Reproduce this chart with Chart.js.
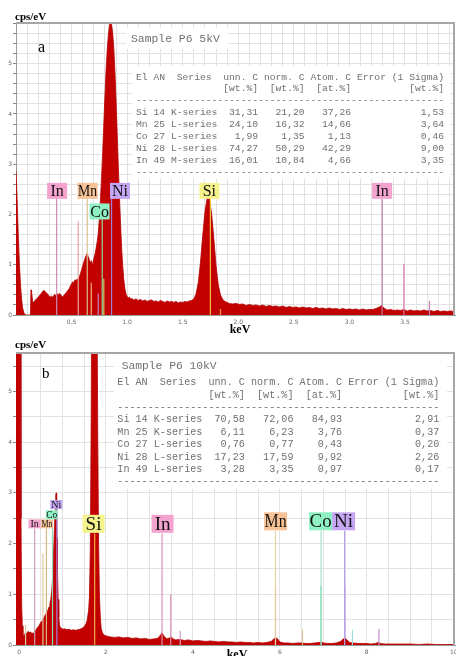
<!DOCTYPE html>
<html>
<head>
<meta charset="utf-8">
<script src="https://cdn.jsdelivr.net/npm/chart.js@4"></script>
<style>
  html, body { margin: 0; padding: 0; background: #fff; width: 456px; height: 656px; overflow: hidden; }
  canvas { position: absolute; left: 0; }
</style>
</head>
<body>
<canvas id="ca" width="456" height="334" style="top:0"></canvas>
<canvas id="cb" width="456" height="322" style="top:334px"></canvas>
<script>
// ---- panel a: 5 kV spectrum (keV, cps/eV) ----
const keVA = [
  0.00, 0.01, 0.02, 0.03, 0.04, 0.05, 0.06, 0.07, 0.08, 0.09,
  0.13, 0.135, 0.14, 0.15, 0.16, 0.17, 0.18, 0.19, 0.20, 0.21,
  0.22, 0.23, 0.24, 0.25, 0.26, 0.27, 0.28, 0.29, 0.30, 0.31,
  0.32, 0.33, 0.34, 0.35, 0.36, 0.37, 0.38, 0.39, 0.40, 0.41,
  0.42, 0.43, 0.44, 0.45, 0.46, 0.47, 0.48, 0.49, 0.50, 0.51,
  0.52, 0.53, 0.54, 0.55, 0.56, 0.57, 0.58, 0.59, 0.60, 0.61,
  0.62, 0.63, 0.64, 0.65, 0.66, 0.67, 0.68, 0.69, 0.70, 0.71,
  0.72, 0.73, 0.74, 0.75, 0.76, 0.77, 0.78, 0.79, 0.80, 0.81,
  0.82, 0.83, 0.84, 0.85, 0.86, 0.87, 0.88, 0.89, 0.90, 0.91,
  0.92, 0.93, 0.94, 0.95, 0.96, 0.97, 0.98, 0.99, 1.00, 1.01,
  1.02, 1.03, 1.04, 1.06, 1.08, 1.10, 1.12, 1.14, 1.16, 1.18,
  1.20, 1.22, 1.24, 1.26, 1.28, 1.30, 1.32, 1.34, 1.36, 1.38,
  1.40, 1.42, 1.44, 1.46, 1.48, 1.50, 1.52, 1.54, 1.56, 1.58,
  1.60, 1.62, 1.64, 1.66, 1.68, 1.70, 1.72, 1.73, 1.74, 1.76,
  1.78, 1.80, 1.82, 1.84, 1.86, 1.88, 1.90, 1.92, 1.95, 1.98,
  2.01, 2.04, 2.07, 2.10, 2.13, 2.16, 2.19, 2.22, 2.25, 2.28,
  2.31, 2.34, 2.37, 2.40, 2.43, 2.46, 2.49, 2.52, 2.55, 2.58,
  2.61, 2.64, 2.67, 2.70, 2.73, 2.76, 2.79, 2.82, 2.85, 2.88,
  2.91, 2.94, 2.97, 3.00, 3.03, 3.06, 3.09, 3.12, 3.15, 3.18,
  3.21, 3.24, 3.27, 3.29, 3.31, 3.34, 3.37, 3.40, 3.43, 3.46,
  3.49, 3.52, 3.55, 3.58, 3.61, 3.64, 3.67, 3.70, 3.73, 3.76,
  3.79, 3.82, 3.85, 3.88, 3.91, 3.94, 3.96
];
const cpsA = [
  2.86, 2.30, 1.62, 1.05, 0.62, 0.32, 0.14, 0.05, 0.01, 0,
  0, 0.50, 0.46, 0.27, 0.25, 0.29, 0.31, 0.33, 0.36, 0.38,
  0.41, 0.44, 0.47, 0.49, 0.47, 0.45, 0.43, 0.40, 0.37, 0.36,
  0.38, 0.35, 0.39, 0.41, 0.38, 0.42, 0.40, 0.43, 0.41, 0.38,
  0.36, 0.39, 0.42, 0.44, 0.47, 0.50, 0.53, 0.58, 0.62, 0.66,
  0.64, 0.70, 0.68, 0.72, 0.70, 0.76, 0.82, 0.90, 0.98, 1.05,
  1.12, 1.18, 1.22, 1.16, 1.10, 1.04, 1.08, 0.98, 1.12, 1.20,
  1.32, 1.45, 1.62, 1.92, 2.30, 2.75, 3.25, 3.80, 4.35, 4.85,
  5.25, 5.55, 5.76, 5.84, 5.78, 5.60, 5.30, 4.85, 4.30, 3.65,
  3.00, 2.40, 1.85, 1.35, 0.98, 0.70, 0.52, 0.42, 0.37, 0.34,
  0.36, 0.32, 0.33, 0.30, 0.32, 0.29, 0.31, 0.28, 0.30, 0.27,
  0.29, 0.30, 0.27, 0.28, 0.26, 0.29, 0.27, 0.25, 0.28, 0.26,
  0.27, 0.25, 0.27, 0.24, 0.26, 0.25, 0.27, 0.26, 0.28, 0.29,
  0.32, 0.42, 0.64, 1.05, 1.58, 2.05, 2.33, 2.36, 2.32, 2.02,
  1.52, 0.98, 0.60, 0.40, 0.31, 0.27, 0.25, 0.23, 0.22, 0.23,
  0.21, 0.22, 0.19, 0.21, 0.19, 0.20, 0.18, 0.20, 0.17, 0.19,
  0.17, 0.18, 0.16, 0.18, 0.15, 0.17, 0.15, 0.16, 0.14, 0.16,
  0.14, 0.15, 0.13, 0.15, 0.13, 0.14, 0.12, 0.14, 0.12, 0.13,
  0.11, 0.13, 0.11, 0.12, 0.11, 0.12, 0.10, 0.12, 0.10, 0.11,
  0.11, 0.13, 0.16, 0.19, 0.14, 0.10, 0.11, 0.09, 0.10, 0.09,
  0.11, 0.08, 0.10, 0.08, 0.09, 0.08, 0.10, 0.08, 0.09, 0.07,
  0.09, 0.07, 0.08, 0.07, 0.08, 0.07, 0.08
];

// element marker lines, panel a
const lineKeVA = [0.366, 0.56, 0.641, 0.677, 0.74, 0.776, 0.79, 0.86, 1.749, 1.84, 3.294, 3.49, 3.72];
const lineTopA = [2.31, 1.86, 2.31, 0.64, 0.43, 1.91, 0.72, 2.31, 2.31, 0.12, 2.31, 1.02, 0.28];
const lineColA = ['#c98bb0', '#e6a6a6', '#d8bf8c', '#f0b070', '#d080c8', '#8fd6a6', '#c8cf60',
                  '#9a80d8', '#f0c040', '#f0a040', '#b878a8', '#d878a8', '#c080b0'];

// element labels, panel a
const tagTextA = ['In', 'Mn', 'Co', 'Ni', 'Si', 'In'];
const tagKeVA = [0.37, 0.644, 0.752, 0.936, 1.74, 3.294];
const tagCpsA = [2.47, 2.47, 2.06, 2.47, 2.47, 2.47];
const tagBgA = ['#f4a3cf', '#f7c396', '#8ff0c4', '#c4a6f3', '#f6f38d', '#f4a3cf'];

// quantification table, panel a
const elemA = ['Si 14 K-series', 'Mn 25 L-series', 'Co 27 L-series', 'Ni 28 L-series', 'In 49 M-series'];
const unnA = ['31,31', '24,10', '1,99', '74,27', '16,01'];
const normA = ['21,20', '16,32', '1,35', '50,29', '10,84'];
const atomA = ['37,26', '14,66', '1,13', '42,29', '4,66'];
const errA = ['1,53', '3,64', '0,46', '9,00', '3,35'];

// ---- panel b: 10 kV spectrum ----
const keVB = [
  -0.08, 0.00, 0.03, 0.045, 0.06, 0.075, 0.09, 0.11, 0.13, 0.15,
  0.17, 0.19, 0.21, 0.23, 0.25, 0.27, 0.29, 0.31, 0.33, 0.35,
  0.37, 0.39, 0.41, 0.43, 0.45, 0.47, 0.49, 0.51, 0.53, 0.55,
  0.57, 0.59, 0.61, 0.63, 0.65, 0.67, 0.69, 0.71, 0.73, 0.75,
  0.77, 0.79, 0.81, 0.83, 0.845, 0.855, 0.865, 0.875, 0.885, 0.90,
  0.915, 0.93, 0.95, 0.98, 1.01, 1.05, 1.10, 1.15, 1.20, 1.25,
  1.30, 1.35, 1.40, 1.45, 1.50, 1.54, 1.57, 1.60, 1.62, 1.64,
  1.66, 1.68, 1.70, 1.73, 1.76, 1.79, 1.81, 1.83, 1.85, 1.87,
  1.89, 1.92, 1.95, 2.00, 2.05, 2.10, 2.20, 2.30, 2.40, 2.50,
  2.60, 2.70, 2.80, 2.90, 3.00, 3.10, 3.18, 3.24, 3.29, 3.34,
  3.40, 3.46, 3.50, 3.55, 3.60, 3.70, 3.80, 3.90, 4.00, 4.10,
  4.20, 4.30, 4.40, 4.50, 4.60, 4.70, 4.80, 4.90, 5.00, 5.10,
  5.20, 5.30, 5.40, 5.50, 5.60, 5.70, 5.80, 5.86, 5.90, 5.95,
  6.00, 6.10, 6.20, 6.30, 6.40, 6.50, 6.60, 6.70, 6.80, 6.90,
  6.95, 7.00, 7.10, 7.20, 7.30, 7.40, 7.46, 7.50, 7.55, 7.60,
  7.70, 7.80, 7.90, 8.00, 8.10, 8.20, 8.26, 8.32, 8.40, 8.60,
  8.80, 9.00, 9.20, 9.40, 9.60, 9.80, 10.00, 10.10
];
const cpsB = [
  9, 10, 7, 2.5, 0.8, 0.38, 0.22, 0.18, 0.20, 0.26,
  0.21, 0.24, 0.27, 0.25, 0.23, 0.26, 0.22, 0.24, 0.22, 0.25,
  0.28, 0.30, 0.33, 0.35, 0.37, 0.40, 0.43, 0.46, 0.48, 0.52,
  0.54, 0.57, 0.60, 0.63, 0.66, 0.70, 0.75, 0.82, 0.90, 1.05,
  1.30, 1.70, 2.20, 2.65, 2.95, 3.00, 2.70, 2.10, 1.45, 0.90,
  0.55, 0.40, 0.34, 0.33, 0.31, 0.32, 0.30, 0.31, 0.29, 0.30,
  0.29, 0.30, 0.31, 0.33, 0.36, 0.42, 0.50, 0.68, 0.95, 1.9,
  4.5, 8.5, 11.5, 12.5, 11.5, 7.5, 4.2, 2.0, 0.95, 0.55,
  0.32, 0.24, 0.20, 0.18, 0.17, 0.16, 0.15, 0.16, 0.14, 0.15,
  0.13, 0.14, 0.12, 0.13, 0.11, 0.12, 0.13, 0.18, 0.24, 0.17,
  0.12, 0.14, 0.16, 0.12, 0.10, 0.11, 0.09, 0.10, 0.08, 0.09,
  0.08, 0.07, 0.08, 0.07, 0.06, 0.07, 0.06, 0.06, 0.05, 0.06,
  0.05, 0.05, 0.04, 0.05, 0.04, 0.05, 0.07, 0.12, 0.15, 0.12,
  0.06, 0.04, 0.04, 0.03, 0.04, 0.04, 0.03, 0.03, 0.04, 0.05,
  0.06, 0.04, 0.03, 0.03, 0.04, 0.07, 0.12, 0.13, 0.10, 0.05,
  0.04, 0.03, 0.03, 0.03, 0.02, 0.03, 0.05, 0.03, 0.02, 0.02,
  0.02, 0.02, 0.01, 0.02, 0.01, 0.01, 0.01, 0.01
];

const lineKeVB = [0.15, 0.36, 0.55, 0.63, 0.77, 0.87, 1.74, 3.29, 3.49, 3.71,
                  5.90, 5.90, 6.52, 6.95, 6.95, 7.49, 7.49, 7.67, 8.28];
const lineTopB = [0.40, 2.30, 1.81, 2.30, 2.48, 2.68, 2.20, 2.20, 1.00, 0.28,
                  2.25, 1.15, 0.30, 2.25, 1.17, 2.25, 1.15, 0.30, 0.32];
const lineColB = ['#d8c8a0', '#c9a0c0', '#e0c8a0', '#d8b880', '#90d8c0', '#a080e0', '#f0b040', '#d890b8', '#e090b8', '#d0a0c0',
                  '#e8cfa8', '#d8a050', '#e0c090', '#a8e0c8', '#40d890', '#b8a0e8', '#8850d0', '#a0d8e8', '#c090d0'];

const tagTextB = ['In', 'Mn', 'Co', 'Ni', 'Si', 'In', 'Mn', 'Co', 'Ni'];
const tagKeVB = [0.357, 0.644, 0.752, 0.858, 1.714, 3.302, 5.902, 6.937, 7.467];
const tagCpsB = [2.39, 2.39, 2.57, 2.77, 2.39, 2.39, 2.44, 2.44, 2.44];
const tagBgB = ['#f4a3cf', '#f7c396', '#8ff0c4', '#c4a6f3', '#f6f38d', '#f4a3cf', '#f7c396', '#8ff0c4', '#c4a6f3'];

const elemB = ['Si 14 K-series', 'Mn 25 K-series', 'Co 27 L-series', 'Ni 28 L-series', 'In 49 L-series'];
const unnB = ['70,58', '6,11', '0,76', '17,23', '3,28'];
const normB = ['72,06', '6,23', '0,77', '17,59', '3,35'];
const atomB = ['84,93', '3,76', '0,43', '9,92', '0,97'];
const errB = ['2,91', '0,37', '0,20', '2,26', '0,17'];

function pts(xs, ys) { return xs.map((x, i) => ({ x, y: ys[i] })); }

function tableLines(el, un, no, at, er) {
  const dash = '-'.repeat(53);
  const rows = el.map((e, i) => e + un[i].padStart(7) + no[i].padStart(8) + at[i].padStart(8) + er[i].padStart(16));
  return ['El AN  Series  unn. C norm. C Atom. C Error (1 Sigma)',
          '               [wt.%]  [wt.%]  [at.%]          [wt.%]', dash, ...rows, dash];
}

function makeChart(id, c) {
  const datasets = c.lineKeV.map((k, i) => ({
    data: [{ x: k, y: 0 }, { x: k, y: c.lineTop[i] }],
    borderColor: c.lineCol[i], borderWidth: 1.2, pointRadius: 0, fill: false, order: 1
  }));
  datasets.push({
    data: pts(c.keV, c.cps), borderColor: '#b50000', backgroundColor: '#c20000',
    borderWidth: 0.8, pointRadius: 0, tension: 0, fill: 'origin', order: 2
  });

  const deco = {
    id: 'edxDeco',
    beforeDatasetsDraw(chart) {
      const ctx = chart.ctx;
      ctx.save();
      ctx.fillStyle = 'rgba(255,255,255,0.95)';
      c.boxes.forEach(b => ctx.fillRect(b[0], b[1], b[2], b[3]));
      ctx.fillStyle = '#707070';
      ctx.textAlign = 'left';
      ctx.textBaseline = 'middle';
      ctx.font = c.titleFont;
      ctx.fillText(c.title, c.titleX, c.titleY);
      ctx.font = c.tableFont;
      c.table.forEach((s, i) => ctx.fillText(s, c.tableX, c.tableY + i * c.tableStep));
      ctx.restore();
    },
    afterDatasetsDraw(chart) {
      const { ctx, scales: { x, y } } = chart;
      ctx.save();
      ctx.textAlign = 'center';
      ctx.textBaseline = 'middle';
      c.tagText.forEach((t, i) => {
        const px = x.getPixelForValue(c.tagKeV[i]);
        const py = y.getPixelForValue(c.tagCps[i]);
        const w = c.tagW[i], h = c.tagH[i];
        ctx.fillStyle = c.tagBg[i];
        ctx.fillRect(px - w / 2, py - h / 2, w, h);
        ctx.fillStyle = '#111';
        ctx.font = c.tagFont[i];
        ctx.fillText(t, px, py + 1, w - 1);
      });
      ctx.restore();
    },
    afterDraw(chart) {
      const { ctx, chartArea: a } = chart;
      ctx.save();
      ctx.strokeStyle = '#a6a6a6';
      ctx.lineWidth = 2;
      ctx.beginPath();
      ctx.moveTo(a.left, a.top);
      ctx.lineTo(a.right - 1, a.top);
      ctx.lineTo(a.right - 1, a.bottom);
      ctx.stroke();
      ctx.fillStyle = '#000';
      ctx.textAlign = 'left';
      ctx.textBaseline = 'alphabetic';
      ctx.font = 'bold 11px "Liberation Serif"';
      ctx.fillText('cps/eV', 15, c.unitY);
      ctx.font = c.letterFont;
      ctx.fillText(c.letter, c.letterX, c.letterY);
      ctx.textAlign = 'center';
      ctx.font = 'bold 12px "Liberation Serif"';
      ctx.fillText('keV', c.kevX, c.kevY);
      ctx.restore();
    }
  };

  return new Chart(document.getElementById(id), {
    type: 'line',
    data: { datasets },
    options: {
      responsive: false,
      animation: false,
      events: [],
      layout: { padding: { top: c.top, right: 1, left: 0, bottom: 0 } },
      plugins: { legend: { display: false }, tooltip: { enabled: false } },
      scales: {
        x: {
          type: 'linear', min: c.xMin, max: c.xMax,
          afterFit: s => { s.height = c.xH; s.paddingLeft = 0; s.paddingRight = 0; },
          border: { color: '#9a9a9a' },
          grid: { color: '#e2e2e2', drawTicks: false },
          ticks: {
            stepSize: c.xStep, autoSkip: false, includeBounds: false, maxRotation: 0,
            padding: 4, color: '#666', font: { size: 6, family: 'DejaVu Sans' },
            callback: c.xLabel
          }
        },
        y: {
          type: 'linear', min: 0, max: c.yMax,
          afterFit: s => { s.width = 16; s.paddingTop = 0; s.paddingBottom = 0; },
          border: { color: '#9a9a9a' },
          grid: { color: '#e2e2e2', tickLength: 3, tickColor: '#8a8a8a' },
          ticks: {
            stepSize: c.yStep, autoSkip: false, includeBounds: false,
            padding: 1, color: '#666', font: { size: 6, family: 'DejaVu Sans' },
            callback: v => Math.abs(v - Math.round(v)) < 1e-6 ? String(Math.round(v)) : ''
          }
        }
      }
    },
    plugins: [deco]
  });
}

makeChart('ca', {
  keV: keVA, cps: cpsA, lineKeV: lineKeVA, lineTop: lineTopA, lineCol: lineColA,
  tagText: tagTextA, tagKeV: tagKeVA, tagCps: tagCpsA, tagBg: tagBgA,
  tagW: [20, 20, 20, 20, 20, 20], tagH: [16, 16, 16, 16, 16, 16],
  tagFont: Array(6).fill('16px "Liberation Serif"'),
  top: 23, xH: 19, xMin: 0, xMax: 3.95, xStep: 0.1, yMax: 5.81, yStep: 0.2,
  xLabel: v => {
    const r = Math.round(v * 10) / 10;
    return (r > 0 && Math.abs(r * 2 - Math.round(r * 2)) < 1e-6) ? r.toFixed(1) : '';
  },
  boxes: [[126, 28, 102, 21], [132, 66, 318, 113]],
  title: 'Sample P6 5kV', titleFont: '11.4px "Liberation Mono"', titleX: 131, titleY: 38.5,
  table: tableLines(elemA, unnA, normA, atomA, errA), tableFont: '9.7px "Liberation Mono"',
  tableX: 136, tableY: 77, tableStep: 11.9,
  unitY: 20, letter: 'a', letterFont: '16px "Liberation Serif"', letterX: 38, letterY: 52,
  kevX: 240, kevY: 333
});

makeChart('cb', {
  keV: keVB, cps: cpsB, lineKeV: lineKeVB, lineTop: lineTopB, lineCol: lineColB,
  tagText: tagTextB, tagKeV: tagKeVB, tagCps: tagCpsB, tagBg: tagBgB,
  tagW: [12, 12, 12, 12, 22, 22, 23, 23, 23], tagH: [9, 9, 9, 9, 18, 18, 18, 18, 18],
  tagFont: ['10px "Liberation Serif"', '10px "Liberation Serif"', '10px "Liberation Serif"', '10px "Liberation Serif"',
            '19px "Liberation Serif"', '19px "Liberation Serif"', '19px "Liberation Serif"', '19px "Liberation Serif"', '19px "Liberation Serif"'],
  top: 19, xH: 11, xMin: -0.07, xMax: 10.03, xStep: 0.5, yMax: 5.76, yStep: 0.5,
  xLabel: v => {
    const r = Math.round(v * 2) / 2;
    return (Math.abs(r - Math.round(r)) < 1e-6 && Math.round(r) % 2 === 0) ? String(Math.round(r)) : '';
  },
  boxes: [[114, 20, 333, 135]],
  title: 'Sample P6 10kV', titleFont: '11.3px "Liberation Mono"', titleX: 121.7, titleY: 32,
  table: tableLines(elemB, unnB, normB, atomB, errB), tableFont: '10.15px "Liberation Mono"',
  tableX: 117.3, tableY: 48.7, tableStep: 12.37,
  unitY: 14, letter: 'b', letterFont: '15px "Liberation Serif"', letterX: 42, letterY: 44,
  kevX: 237, kevY: 324
});
</script>
</body>
</html>
